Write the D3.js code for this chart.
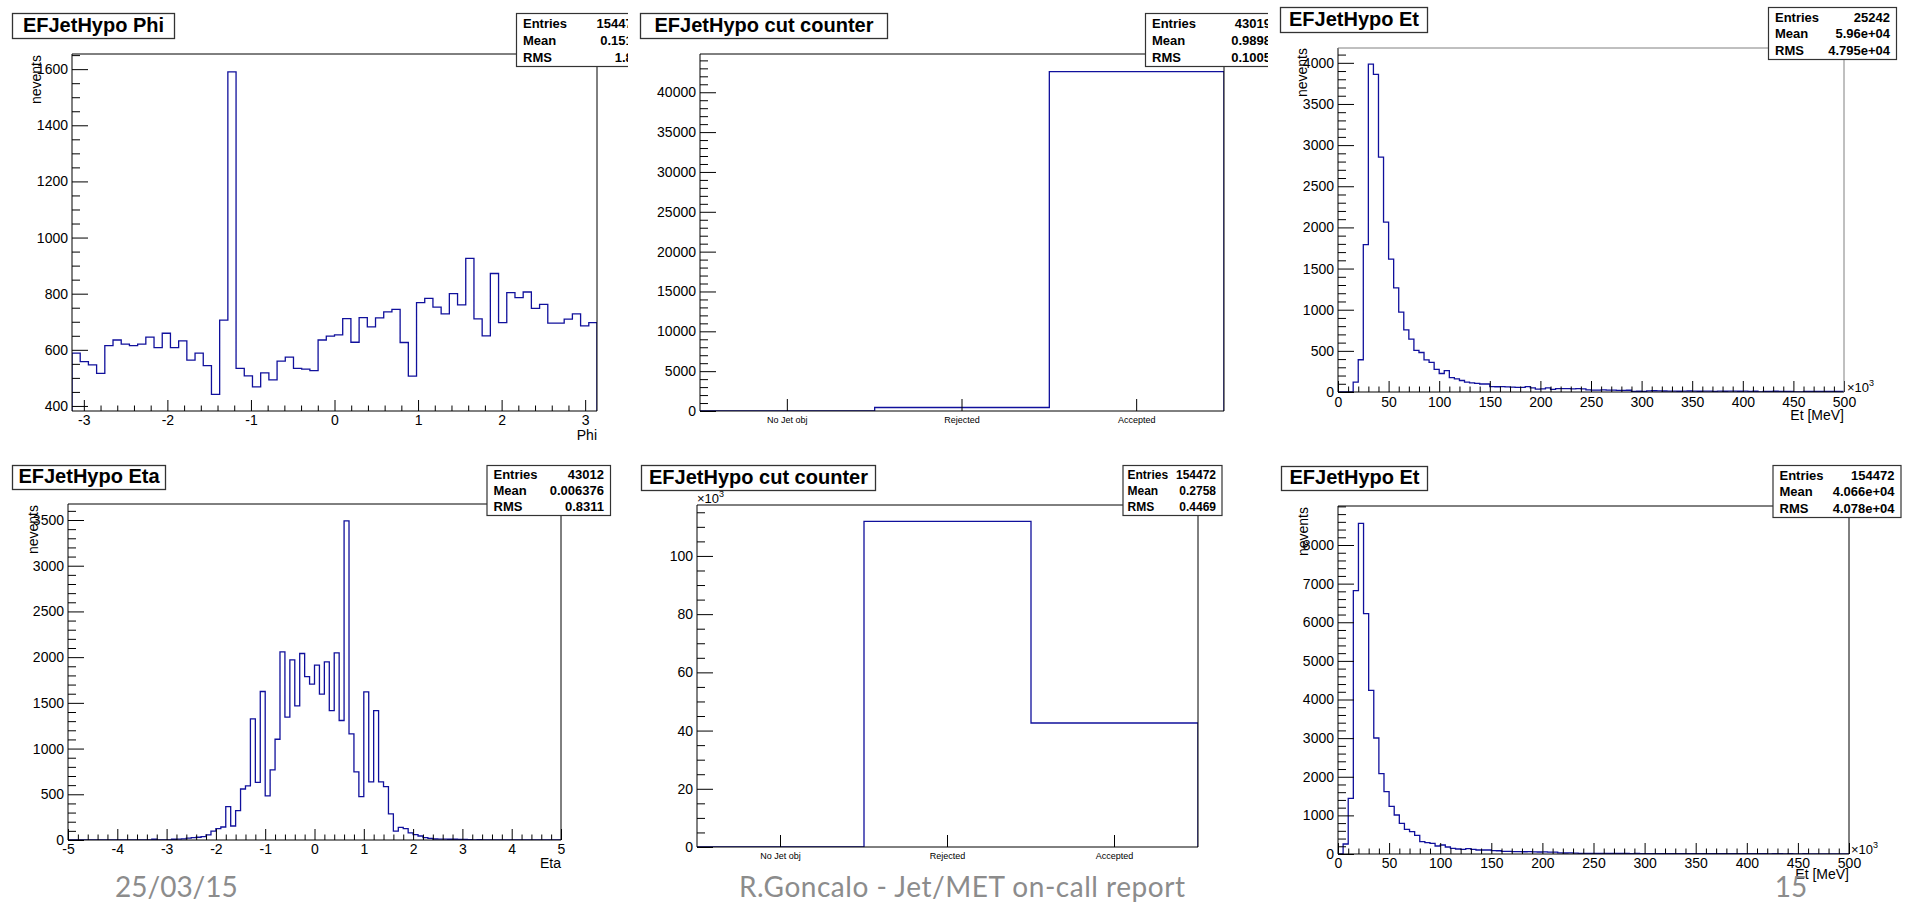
<!DOCTYPE html>
<html><head><meta charset="utf-8">
<script src="https://cdn.jsdelivr.net/npm/d3@7"></script>
<style>
body{margin:0;background:#fff;}
svg{display:block;}
</style>
</head><body>
<svg id="c" width="1905" height="904"></svg>
<script>
// ---------------- DATA ----------------
const phiCounts = [588,558,546,516,615,635,620,615,620,645,608,659,608,632,563,588,544,441,706,1590,
  534,507,468,518,493,560,574,534,531,526,635,649,653,711,627,715,682,714,735,744,626,506,
  768,783,752,728,800,760,926,710,650,872,697,804,786,806,748,762,695,695,709,728,685,697];
const etaCounts = [0,0,0,0,0,0,0,0,0,0,0,0,0,0,0,0,0,8,0,0,
  2,8,10,12,20,25,30,38,55,98,124,142,365,153,321,558,591,1325,631,1624,
  482,766,1102,2058,1343,1970,1467,2040,1788,1704,1912,1595,1949,1416,2047,1307,3490,1160,745,474,
  1620,635,1416,635,584,285,98,139,124,77,58,44,26,18,11,10,9,8,8,7,
  6,3,0,5,0,0,0,0,0,0,0,0,0,0,0,0,0,0,0,0];
const etTopCounts = [0,0,0,120,392,1790,3985,3860,2855,2065,1615,1265,970,756,643,505,480,390,360,275,
  225,260,175,160,140,120,110,105,97,97,
  66,64,65,63,60,57,56,65,49,36,37,49,32,
  41,40,42,39,40,38,25,24,23,25,22,24,20,19,21,8,9,7,14,15,13,12,
  10,11,9,10,12,10,9,11,10,8,10,9,11,10,9,10,8,9,0,8,7,9,8,7,8,0,0,7,8,8,7,8,7,8,8];
const etBottomCounts = [0,259,1441,6818,8561,6222,4237,3003,2080,1614,1234,1010,794,639,578,483,319,293,276,207,
  233,181,147,129,121,138,121,104,104,104,
  88,84,70,68,61,60,58,62,57,52,54,50,51,28,26,27,24,
  18,17,16,17,15,16,14,15,13,14,12,13,11,12,11,10,11,10,9,10,
  9,8,9,8,8,7,8,7,7,8,7,6,7,6,6,7,6,5,6,6,5,6,5,5,6,5,5,4,5,5,4,5,4];
const cutLabels = ["No Jet obj","Rejected","Accepted"];
const cutTopCounts = [0,439,42580];
const cutBottomCounts = [0,111869,42603];

const phiXTicks = [-3,-2,-1,0,1,2,3];
const phiYTicks = [400,600,800,1000,1200,1400,1600];
const etaXTicks = [-5,-4,-3,-2,-1,0,1,2,3,4,5];
const etaYTicks = [0,500,1000,1500,2000,2500,3000,3500];
const etXTicks = [0,50,100,150,200,250,300,350,400,450,500];
const etTopYTicks = [0,500,1000,1500,2000,2500,3000,3500,4000];
const etBottomYTicks = [0,1000,2000,3000,4000,5000,6000,7000,8000];
const cutTopYTicks = [0,5000,10000,15000,20000,25000,30000,35000,40000];
const cutBottomYTicks = [0,20000,40000,60000,80000,100000];

const phiStats = [["Entries","154472"],["Mean","0.1517"],["RMS","1.81"]];
const cutTopStats = [["Entries","43019"],["Mean","0.9898"],["RMS","0.1005"]];
const etTopStats = [["Entries","25242"],["Mean","5.96e+04"],["RMS","4.795e+04"]];
const etaStats = [["Entries","43012"],["Mean","0.006376"],["RMS","0.8311"]];
const cutBottomStats = [["Entries","154472"],["Mean","0.2758"],["RMS","0.4469"]];
const etBottomStats = [["Entries","154472"],["Mean","4.066e+04"],["RMS","4.078e+04"]];

const footerTexts = ["25/03/15","R.Goncalo - Jet/MET on-call report","15"];

// ---------------- DRAWING ----------------
const FONT = "'Liberation Sans', Arial, Helvetica, sans-serif";
const svg = d3.select("#c");
const HCOL = "#10109c";
let clipId = 0;

function near(a,b){return Math.abs(a-b)<1e-6;}
function minorTicks(major, step, lo, hi){
  const out=[];
  const start = Math.ceil((lo-1e-9)/step);
  for(let k=start; k*step<=hi+1e-9; k++){
    const v = Math.round(k*step*1e6)/1e6;
    if(!major.some(m=>near(m,v))) out.push(v);
  }
  return out;
}

function drawPanel(p){
  const root = svg.append("g");
  let g = root;
  if(p.clipRight){
    const id = "pc"+(clipId++);
    svg.append("defs").append("clipPath").attr("id",id)
      .append("rect").attr("x",p.clipLeft).attr("y",0).attr("width",p.clipRight-p.clipLeft).attr("height",904);
    g.attr("clip-path",`url(#${id})`);
  }
  const f = p.frame;
  let xs;
  if(p.cats){
    xs = d3.scaleBand().domain(p.cats).range([f.l,f.r]).padding(0);
  } else {
    xs = d3.scaleLinear().domain(p.xDomain).range([f.l,f.r]);
  }
  const ys = d3.scaleLinear().domain(p.yDomain).range([f.b,f.t]);

  // histogram step outline
  const pts = [];
  const base = p.yDomain[0];
  if(p.cats){
    p.cats.forEach((c,i)=>{
      const x0 = xs(c), x1 = xs(c)+xs.bandwidth();
      if(i===0) pts.push([x0, ys(base)]);
      pts.push([x0, ys(p.counts[i])]);
      pts.push([x1, ys(p.counts[i])]);
      if(i===p.cats.length-1) pts.push([x1, ys(base)]);
    });
  } else {
    const n = p.counts.length;
    const w = (p.xDomain[1]-p.xDomain[0])/n;
    p.counts.forEach((c,i)=>{
      const a = p.xDomain[0]+i*w, b = a+w;
      if(i===0) pts.push([xs(a), ys(base)]);
      pts.push([xs(a), ys(c)]);
      pts.push([xs(b), ys(c)]);
      if(i===n-1) pts.push([xs(b), ys(base)]);
    });
  }
  const fid = "fc"+(clipId++);
  svg.append("defs").append("clipPath").attr("id",fid)
    .append("rect").attr("x",f.l).attr("y",f.t).attr("width",f.r-f.l).attr("height",f.b-f.t);
  g.append("path").attr("d", d3.line()(pts)).attr("fill","none")
    .attr("stroke",HCOL).attr("stroke-width",1.3).attr("clip-path",`url(#${fid})`);

  // y axis
  const yMaj = g.append("g").attr("transform",`translate(${f.l},0)`)
    .call(d3.axisLeft(ys).tickValues(p.yTicks).tickSizeInner(-16).tickSizeOuter(0).tickPadding(4)
      .tickFormat(p.yFmt || (v=>String(v))));
  yMaj.select(".domain").remove();
  yMaj.attr("font-size",14).attr("font-family",FONT);
  const yMin = g.append("g").attr("transform",`translate(${f.l},0)`)
    .call(d3.axisLeft(ys).tickValues(minorTicks(p.yTicks,p.yMinor,p.yDomain[0],p.yDomain[1]))
      .tickSizeInner(-8).tickSizeOuter(0).tickFormat(()=>""));
  yMin.select(".domain").remove();

  // x axis
  if(p.cats){
    const xa = g.append("g").attr("transform",`translate(0,${f.b})`)
      .call(d3.axisBottom(xs).tickSizeInner(-12).tickSizeOuter(0).tickPadding(5.6));
    xa.select(".domain").remove();
    xa.attr("font-size",9).attr("font-family",FONT);
  } else {
    const xa = g.append("g").attr("transform",`translate(0,${f.b})`)
      .call(d3.axisBottom(xs).tickValues(p.xTicks).tickSizeInner(-11).tickSizeOuter(0).tickPadding(p.xPad)
        .tickFormat(v=>String(v)));
    xa.select(".domain").remove();
    xa.attr("font-size",14).attr("font-family",FONT);
    const xm = g.append("g").attr("transform",`translate(0,${f.b})`)
      .call(d3.axisBottom(xs).tickValues(minorTicks(p.xTicks,p.xMinor,p.xDomain[0],p.xDomain[1]))
        .tickSizeInner(-5.5).tickSizeOuter(0).tickFormat(()=>""));
    xm.select(".domain").remove();
  }
  g.selectAll(".tick line").attr("stroke","#000").attr("stroke-width",1);

  // frame
  const fc = p.frameColor || "#000";
  g.append("line").attr("x1",f.l).attr("x2",f.l).attr("y1",f.t).attr("y2",f.b).attr("stroke","#000");
  g.append("line").attr("x1",f.l).attr("x2",f.r).attr("y1",f.b).attr("y2",f.b).attr("stroke","#000");
  g.append("line").attr("x1",f.l).attr("x2",f.r).attr("y1",f.t).attr("y2",f.t).attr("stroke",fc);
  g.append("line").attr("x1",f.r).attr("x2",f.r).attr("y1",f.t).attr("y2",f.b).attr("stroke",fc);

  // axis titles
  if(p.xTitle){
    g.append("text").attr("x",p.xTitle.x).attr("y",p.xTitle.y).attr("text-anchor","end")
      .attr("font-family",FONT).attr("font-size",14).text(p.xTitle.t);
  }
  if(p.yTitle){
    g.append("text").attr("transform",`translate(${p.yTitle.x},${p.yTitle.y}) rotate(-90)`)
      .attr("text-anchor","end").attr("font-family",FONT).attr("font-size",14).text("nevents");
  }
  if(p.exp){
    const t = g.append("text").attr("x",p.exp.x).attr("y",p.exp.y)
      .attr("font-family",FONT).attr("font-size",13);
    t.append("tspan").text("\u00d710");
    t.append("tspan").attr("font-size",9).attr("dy",-6).text("3");
  }

  // title box
  const tb = p.titleBox;
  g.append("rect").attr("x",tb.x+0.5).attr("y",tb.y+0.5).attr("width",tb.w).attr("height",tb.h)
    .attr("fill","#fff").attr("stroke","#333").attr("stroke-width",1.3);
  g.append("text").attr("x",tb.x+tb.w/2+0.5).attr("y",tb.y+tb.h*0.74).attr("text-anchor","middle")
    .attr("font-family",FONT).attr("font-weight","bold").attr("font-size",20).text(p.title);

  // stats box
  const sb = p.statsBox;
  const sf = sb.fs || 13;
  g.append("rect").attr("x",sb.x+0.5).attr("y",sb.y+0.5).attr("width",sb.w).attr("height",sb.h)
    .attr("fill","#fff").attr("stroke","#333").attr("stroke-width",1.2);
  const vx = sb.vx !== undefined ? sb.vx : sb.x+sb.w-6;
  p.stats.forEach((r,i)=>{
    const by = sb.y + sb.h*[0.28,0.6,0.92][i];
    g.append("text").attr("x",sb.x+(sb.lp||7)).attr("y",by).attr("font-family",FONT).attr("font-weight","bold")
      .attr("font-size",sf).text(r[0]);
    g.append("text").attr("x",vx).attr("y",by).attr("text-anchor","end").attr("font-family",FONT)
      .attr("font-weight","bold").attr("font-size",sf).text(r[1]);
  });
}

// Phi
drawPanel({
  frame:{l:72,t:54,r:597,b:411}, xDomain:[-Math.PI,Math.PI], yDomain:[382,1654],
  counts:phiCounts, xTicks:phiXTicks, xMinor:0.2, yTicks:phiYTicks, yMinor:50, xPad:4,
  xTitle:{x:597,y:440,t:"Phi"}, yTitle:{x:41,y:55},
  title:"EFJetHypo Phi", titleBox:{x:12,y:13,w:162,h:25},
  stats:phiStats, statsBox:{x:516,y:13,w:140,h:53,vx:640},
  clipLeft:0, clipRight:628
});
// Cut counter top
drawPanel({
  frame:{l:700,t:54,r:1224,b:411}, cats:cutLabels, yDomain:[0,44800],
  counts:cutTopCounts, yTicks:cutTopYTicks, yMinor:1000,
  title:"EFJetHypo cut counter", titleBox:{x:640,y:13,w:247,h:25},
  stats:cutTopStats, statsBox:{x:1145,y:13,w:140,h:53,vx:1271},
  clipLeft:630, clipRight:1268
});
// Et top
drawPanel({
  frame:{l:1338,t:48,r:1844,b:392}, xDomain:[0,500], yDomain:[0,4180],
  counts:etTopCounts, xTicks:etXTicks, xMinor:10, yTicks:etTopYTicks, yMinor:100, xPad:5,
  xTitle:{x:1844,y:420,t:"Et [MeV]"}, yTitle:{x:1307,y:48}, exp:{x:1847,y:392},
  frameColor:"#808080",
  title:"EFJetHypo Et", titleBox:{x:1280,y:7,w:147,h:25},
  stats:etTopStats, statsBox:{x:1768,y:7,w:128,h:52}
});
// Eta
drawPanel({
  frame:{l:68,t:504,r:561,b:840}, xDomain:[-5,5], yDomain:[0,3675],
  counts:etaCounts, xTicks:etaXTicks, xMinor:0.2, yTicks:etaYTicks, yMinor:100, xPad:4,
  xTitle:{x:561,y:868,t:"Eta"}, yTitle:{x:38,y:505},
  title:"EFJetHypo Eta", titleBox:{x:12,y:465,w:153,h:24},
  stats:etaStats, statsBox:{x:486.5,y:465,w:123.5,h:50}
});
// Cut counter bottom
drawPanel({
  frame:{l:697,t:505,r:1198,b:847}, cats:cutLabels, yDomain:[0,117500],
  counts:cutBottomCounts, yTicks:cutBottomYTicks, yMinor:5000, yFmt:v=>String(v/1000),
  exp:{x:697,y:503},
  title:"EFJetHypo cut counter", titleBox:{x:641,y:465,w:234,h:25},
  stats:cutBottomStats, statsBox:{x:1122.5,y:465,w:99,h:50,fs:12,lp:5,vx:1216}
});
// Et bottom
drawPanel({
  frame:{l:1338,t:506,r:1849,b:854}, xDomain:[0,500], yDomain:[0,9010],
  counts:etBottomCounts, xTicks:etXTicks, xMinor:10, yTicks:etBottomYTicks, yMinor:200, xPad:4,
  xTitle:{x:1849,y:879,t:"Et [MeV]"}, yTitle:{x:1308,y:507}, exp:{x:1851,y:854},
  title:"EFJetHypo Et", titleBox:{x:1281,y:466,w:146,h:24},
  stats:etBottomStats, statsBox:{x:1772.5,y:465,w:128,h:52}
});

// footer
const foot = svg.append("g").attr("font-family","Lato, 'Open Sans', sans-serif").attr("font-size",28).attr("fill","#8c8c8c");
foot.append("text").attr("x",115).attr("y",897).text(footerTexts[0]);
foot.append("text").attr("x",962).attr("y",897).attr("text-anchor","middle").attr("textLength",446).text(footerTexts[1]);
foot.append("text").attr("x",1791).attr("y",897).attr("text-anchor","middle").text(footerTexts[2]);
</script>
</body></html>
